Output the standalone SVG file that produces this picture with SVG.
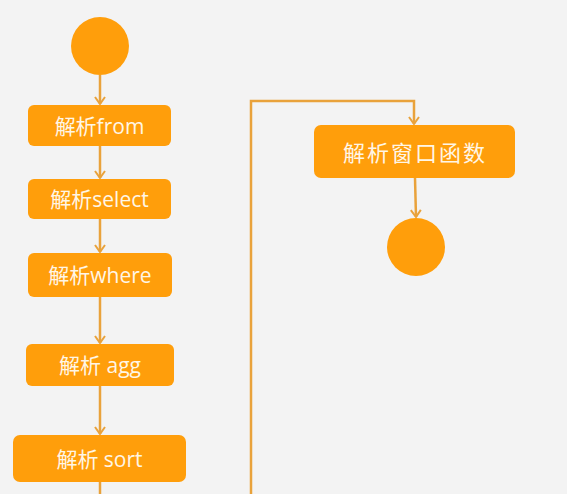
<svg xmlns="http://www.w3.org/2000/svg" width="567" height="494" viewBox="0 0 567 494">
<defs>
<style>
.node{fill:#ff9e0b;}
.lbl{fill:#fff6e6;font-family:"Open Sans","Noto Sans CJK SC",sans-serif;font-size:21px;text-anchor:middle;dominant-baseline:central;}
.conn{fill:none;stroke:#e9a23b;stroke-width:2.5;}
</style>
<marker id="arr" viewBox="0 0 12 12" refX="11" refY="6" markerWidth="12" markerHeight="12" markerUnits="userSpaceOnUse" orient="auto">
<polyline points="4,1 11,6 4,11" fill="none" stroke="#e9a23b" stroke-width="2"/>
</marker>
</defs>
<rect width="567" height="494" fill="#f3f3f3"/>
<g id="connectors">
<line class="conn" x1="100" y1="75" x2="100" y2="104" marker-end="url(#arr)"/>
<line class="conn" x1="100" y1="146" x2="100" y2="178" marker-end="url(#arr)"/>
<line class="conn" x1="100" y1="219" x2="100" y2="252" marker-end="url(#arr)"/>
<line class="conn" x1="100" y1="297" x2="100" y2="343" marker-end="url(#arr)"/>
<line class="conn" x1="100" y1="386" x2="100" y2="434" marker-end="url(#arr)"/>
<line class="conn" x1="100" y1="482" x2="100" y2="494"/>
<polyline class="conn" points="251,494 251,101 414,101 414,124" marker-end="url(#arr)"/>
<line class="conn" x1="415" y1="178" x2="416" y2="217" marker-end="url(#arr)"/>
</g>
<g id="start"><circle class="node" cx="100" cy="46" r="29"/></g>
<g id="from"><rect class="node" x="28" y="105" width="143" height="41" rx="6"/><text class="lbl" x="99.5" y="126">解析from</text></g>
<g id="select"><rect class="node" x="28" y="179" width="143" height="40" rx="6"/><text class="lbl" x="99.5" y="199">解析select</text></g>
<g id="where"><rect class="node" x="28" y="253" width="144" height="44" rx="6"/><text class="lbl" x="100" y="275">解析where</text></g>
<g id="agg"><rect class="node" x="26" y="344" width="148" height="42" rx="6"/><text class="lbl" x="100" y="365">解析 agg</text></g>
<g id="sort"><rect class="node" x="13" y="435" width="173" height="47" rx="7"/><text class="lbl" x="99.5" y="458.5">解析 sort</text></g>
<g id="window"><rect class="node" x="314" y="125" width="201" height="53" rx="7"/><text class="lbl" x="415" y="152" style="font-size:22px;letter-spacing:2px">解析窗口函数</text></g>
<g id="end"><circle class="node" cx="416" cy="247" r="29"/></g>
</svg>
